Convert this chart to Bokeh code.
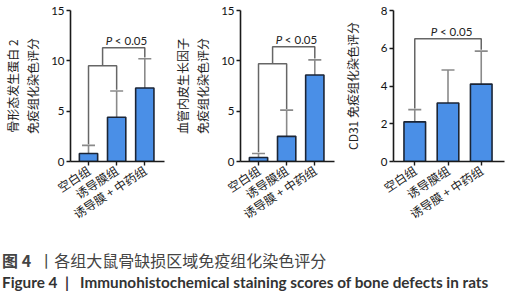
from bokeh.plotting import figure
from bokeh.models import (ColumnDataSource, Whisker, TeeHead, FixedTicker, Range1d, Div)
from bokeh.layouts import row, column
from bokeh.core.properties import value
from bokeh.embed import file_html
from bokeh.resources import INLINE

# ---------------- data ----------------
groups = ["空白组", "诱导膜组", "诱导膜 + 中药组"]
bmp2_mean = [0.8, 4.4, 7.3]
bmp2_sd = [0.8, 2.6, 2.9]
vegf_mean = [0.4, 2.5, 8.6]
vegf_sd = [0.4, 2.6, 1.5]
cd31_mean = [2.1, 3.1, 4.1]
cd31_sd = [0.65, 1.75, 1.75]
bmp2_ticks = [0, 5, 10, 15]
vegf_ticks = [0, 5, 10, 15]
cd31_ticks = [0, 2, 4, 6, 8]
bmp2_bracket = [9.5, 11.3]
vegf_bracket = [9.7, 11.4]
cd31_bracket = [6.5]
sig_label = "< 0.05"

BAR_FILL = "#4a8fe7"
BAR_LINE = "#1b2536"
ERR_COL = "#8a8a8a"
BR_COL = "#666666"
AX_COL = "#1a1a1a"
CJK = "Noto Sans CJK SC"


def panel(mean, sd, ticks, ylabel, brackets, two_level, top_border, bot_border, standoff):
    ymax = ticks[-1]
    p = figure(width=170, height=232, output_backend="svg", toolbar_location=None,
               x_range=Range1d(-0.64, 2.7), y_range=Range1d(0, ymax),
               min_border_left=49, min_border_right=6,
               min_border_top=top_border, min_border_bottom=bot_border)
    p.outline_line_color = None
    p.grid.visible = False
    p.background_fill_color = "white"
    xs = list(range(len(groups)))
    tops = [m + s for m, s in zip(mean, sd)]
    src = ColumnDataSource(dict(x=xs, mean=mean, top=tops))
    w = Whisker(base="x", lower="mean", upper="top", source=src,
                line_color=ERR_COL, line_width=1.6, lower_head=None,
                upper_head=TeeHead(size=13, line_color=ERR_COL, line_width=1.6))
    p.add_layout(w)
    p.vbar(x="x", top="mean", width=0.65, source=src, fill_color=BAR_FILL,
           line_color=BAR_LINE, line_width=1.6)

    gap = ymax * 0.008
    if two_level:
        lo, hi = brackets
        p.line([0, 0, 1, 1], [tops[0] + gap, lo, lo, tops[1] + gap],
               line_color=BR_COL, line_width=1.5)
        p.line([0.5, 0.5, 2, 2], [lo, hi, hi, tops[2] + gap],
               line_color=BR_COL, line_width=1.5)
        xc = 1.22
        ytxt = hi + ymax * 0.05
    else:
        lv = brackets[0]
        p.line([0, 0, 2, 2], [tops[0] + gap, lv, lv, tops[2] + gap],
               line_color=BR_COL, line_width=1.5)
        xc = 1.0
        ytxt = lv + ymax * 0.05
    p.text(x=[xc], y=[ytxt], text=["P "], text_font=value("Lato"),
           text_font_style="italic", text_font_size="11.5px", text_align="right",
           text_baseline="middle", text_color="#222222", x_offset=-8)
    p.text(x=[xc], y=[ytxt], text=[sig_label], text_font=value("Lato"),
           text_font_size="11.5px", text_align="left", text_baseline="middle",
           text_color="#222222", x_offset=-8)

    # axes
    p.yaxis.ticker = FixedTicker(ticks=ticks)
    p.yaxis.minor_tick_line_color = None
    p.yaxis.major_tick_out = 4
    p.yaxis.major_tick_in = 0
    p.yaxis.major_label_text_font = "Lato"
    p.yaxis.major_label_text_font_size = "11.5px"
    p.yaxis.major_label_text_color = "#111111"
    p.yaxis.major_label_standoff = 2
    p.yaxis.axis_line_width = 1.6
    p.yaxis.axis_line_color = AX_COL
    p.yaxis.major_tick_line_width = 1.4
    p.yaxis.major_tick_line_color = AX_COL
    p.yaxis.axis_label = ylabel
    p.yaxis.axis_label_text_font = CJK
    p.yaxis.axis_label_text_font_style = "normal"
    p.yaxis.axis_label_text_font_size = "12px"
    p.yaxis.axis_label_text_color = "#222222"
    p.yaxis.axis_label_standoff = standoff

    p.xaxis.ticker = FixedTicker(ticks=xs)
    p.xaxis.major_label_overrides = {i: g for i, g in enumerate(groups)}
    p.xaxis.minor_tick_line_color = None
    p.xaxis.major_tick_out = 4
    p.xaxis.major_tick_in = 0
    p.xaxis.major_label_orientation = 0.58
    p.xaxis.major_label_text_font = CJK
    p.xaxis.major_label_text_font_size = "12px"
    p.xaxis.major_label_text_color = "#222222"
    p.xaxis.major_label_standoff = 3
    p.xaxis.axis_line_width = 1.6
    p.xaxis.axis_line_color = AX_COL
    p.xaxis.major_tick_line_width = 1.4
    p.xaxis.major_tick_line_color = AX_COL
    return p


p1 = panel(bmp2_mean, bmp2_sd, bmp2_ticks, "骨形态发生蛋白 2\n免疫组化染色评分",
           bmp2_bracket, True, 4, 70, 7)
p2 = panel(vegf_mean, vegf_sd, vegf_ticks, "血管内皮生长因子\n免疫组化染色评分",
           vegf_bracket, True, 10, 71, 7)
p3 = panel(cd31_mean, cd31_sd, cd31_ticks, "CD31 免疫组化染色评分",
           cd31_bracket, False, 2, 69, 17)

caption = Div(width=515, height=52, text=(
    '<div style="margin-left:-3px;padding-top:12px;line-height:22px;">'
    '<div style="font-family:\'Noto Sans CJK SC\';font-size:16px;color:#444444;white-space:nowrap;">'
    '<b>图 4</b>&nbsp;&nbsp;丨各组大鼠骨缺损区域免疫组化染色评分</div>'
    '<div style="font-family:Lato;font-weight:bold;font-size:15.3px;color:#333333;white-space:nowrap;">'
    'Figure 4&nbsp;&nbsp;|&nbsp;&nbsp;&nbsp;Immunohistochemical staining scores of bone defects in rats</div>'
    '</div>'))

layout = column(row(p1, p2, p3, spacing=0), caption, spacing=0)

open("out.html", "w").write(file_html(layout, INLINE))
